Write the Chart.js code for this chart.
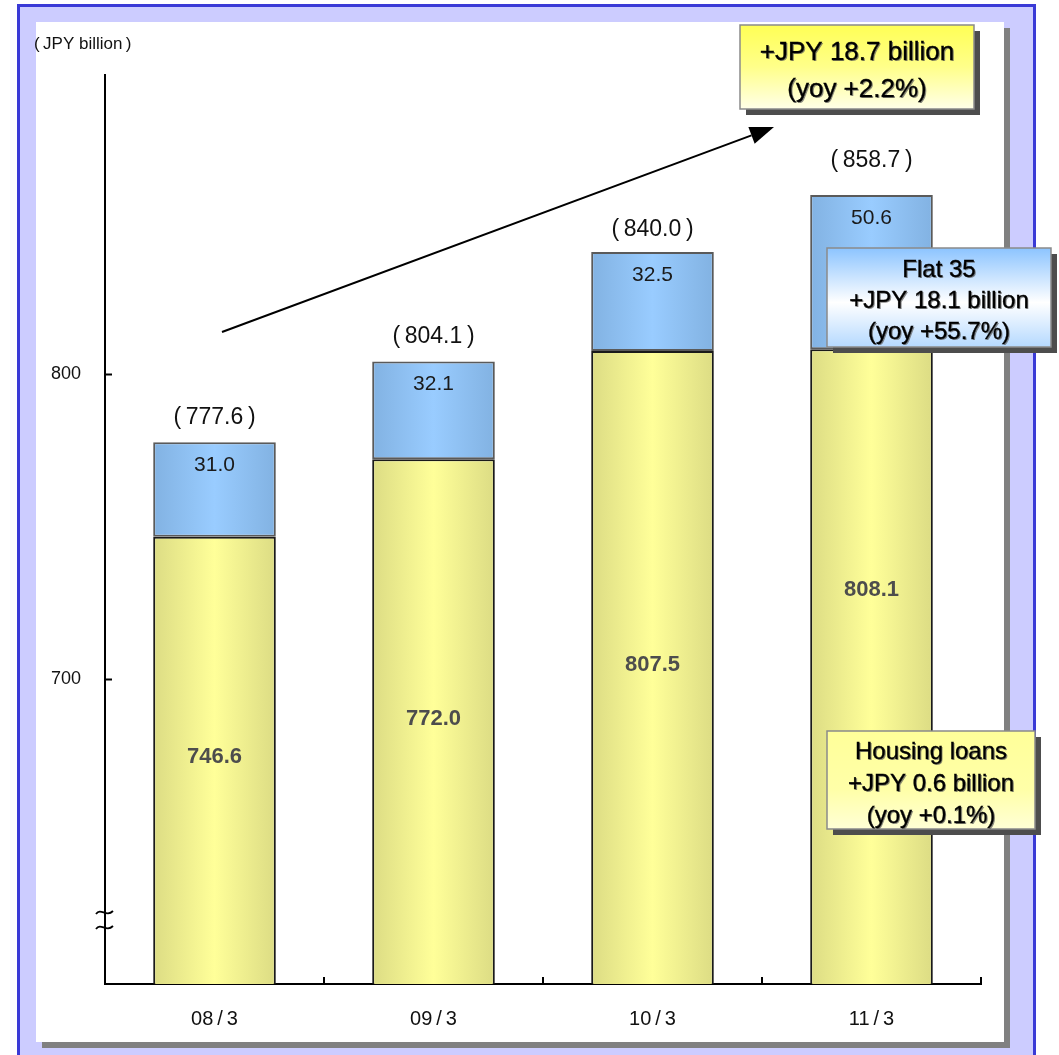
<!DOCTYPE html>
<html>
<head>
<meta charset="utf-8">
<script src="https://cdn.jsdelivr.net/npm/chart.js@4/dist/chart.umd.min.js"></script>
<style>
  html, body { margin: 0; padding: 0; background: #ffffff; }
  #wrap { width: 1059px; height: 1055px; }
</style>
</head>
<body>
<div id="wrap"><canvas id="c" width="1059" height="1055"></canvas></div>
<script>
// Fiscal year-ends and loan balances (JPY billion)
const categories   = ['08/3', '09/3', '10/3', '11/3'];
const housingLoans = [746.6, 772.0, 807.5, 808.1];
const flat35       = [31.0, 32.1, 32.5, 50.6];
const yTickValues  = [700, 800];
const unitLabel    = 'JPY billion';

const FONT = '"Liberation Sans", Arial, Helvetica, sans-serif';
const BAR_PCT = 0.56;
const THIN = '\u2009';

const last = categories.length - 1;
const totals = housingLoans.map((v, i) => v + flat35[i]);

function fmtChange(cur, prev) {
  const d = cur - prev;
  return {
    amount: (d >= 0 ? '+' : '-') + 'JPY ' + Math.abs(d).toFixed(1) + ' billion',
    pct: '(yoy ' + (d >= 0 ? '+' : '-') + Math.abs(d / prev * 100).toFixed(1) + '%)'
  };
}
const totalChange   = fmtChange(totals[last], totals[last - 1]);
const flatChange    = fmtChange(flat35[last], flat35[last - 1]);
const housingChange = fmtChange(housingLoans[last], housingLoans[last - 1]);

// horizontal "cylinder" shading across each bar
function barGradient(edge, mid) {
  return function (ctx) {
    const chart = ctx.chart;
    const xs = chart.scales && chart.scales.x;
    if (!chart.chartArea || !xs || ctx.dataIndex === undefined) return mid;
    const cx = xs.getPixelForValue(ctx.dataIndex);
    const half = (xs.width / categories.length) * BAR_PCT / 2;
    const g = chart.ctx.createLinearGradient(cx - half, 0, cx + half, 0);
    g.addColorStop(0, edge);
    g.addColorStop(0.5, mid);
    g.addColorStop(1, edge);
    return g;
  };
}

// page frame: lavender border panel, white sheet with a drop shadow
const framePlugin = {
  id: 'frame',
  beforeDraw(chart) {
    const c = chart.ctx;
    c.save();
    c.fillStyle = '#ffffff';
    c.fillRect(0, 0, chart.width, chart.height);
    c.fillStyle = '#ccccff';
    c.fillRect(17, 4, 1019, 1060);
    c.fillStyle = '#3a3ad6';
    c.fillRect(17, 4, 3, 1060);
    c.fillRect(17, 4, 1019, 3);
    c.fillRect(1033, 4, 3, 1060);
    c.fillStyle = '#808080';
    c.fillRect(42, 28, 968, 1020);
    c.fillStyle = '#ffffff';
    c.fillRect(36, 22, 968, 1020);
    c.restore();
  }
};

function shadowText(c, text, x, y) {
  c.fillStyle = 'rgba(90,90,90,0.7)';
  c.fillText(text, x + 1.2, y + 1.2);
  c.fillStyle = '#000000';
  c.fillText(text, x, y);
  c.lineWidth = 0.35;
  c.strokeStyle = '#000000';
  c.strokeText(text, x, y);
}

function calloutBox(c, box, stops, lines, fontSize, lineGap) {
  c.save();
  c.fillStyle = '#4d4d4d';
  c.fillRect(box.x + 6, box.y + 6, box.w, box.h);
  const g = c.createLinearGradient(0, box.y, 0, box.y + box.h);
  stops.forEach(s => g.addColorStop(s[0], s[1]));
  c.fillStyle = g;
  c.fillRect(box.x, box.y, box.w, box.h);
  c.strokeStyle = '#8a8a8a';
  c.lineWidth = 1.5;
  c.strokeRect(box.x, box.y, box.w, box.h);
  c.font = fontSize + 'px ' + FONT;
  c.textAlign = 'center';
  c.textBaseline = 'middle';
  const cx = box.x + box.w / 2;
  const y0 = box.y + box.h / 2 + 4 - (lines.length - 1) * lineGap / 2;
  lines.forEach((t, i) => shadowText(c, t, cx, y0 + i * lineGap));
  c.restore();
}

// axis ticks, value labels and callouts
const labelPlugin = {
  id: 'labels',
  afterDatasetsDraw(chart, args, opts) {
    const c = chart.ctx;
    const xs = chart.scales.x, ys = chart.scales.y;
    const area = chart.chartArea;
    const catW = xs.width / categories.length;
    c.save();

    // inward tick marks
    c.strokeStyle = '#000000';
    c.lineWidth = 2;
    yTickValues.forEach(v => {
      const y = Math.round(ys.getPixelForValue(v)) + 0.5;
      c.beginPath(); c.moveTo(area.left, y); c.lineTo(area.left + 7, y); c.stroke();
    });
    categories.forEach((_, i) => {
      const x = Math.round(xs.getPixelForValue(i) + catW / 2);
      c.beginPath(); c.moveTo(x, area.bottom); c.lineTo(x, area.bottom - 7); c.stroke();
    });

    // axis break mark
    c.lineWidth = 1.8;
    [912, 927].forEach(y => {
      c.beginPath();
      c.moveTo(area.left - 9, y + 2);
      c.bezierCurveTo(area.left - 4, y - 5, area.left + 1, y + 6, area.left + 8, y - 1);
      c.stroke();
    });

    c.textAlign = 'center';
    c.textBaseline = 'middle';
    categories.forEach((_, i) => {
      const x = xs.getPixelForValue(i);
      const yHousing = ys.getPixelForValue(housingLoans[i]);
      const yTotal = ys.getPixelForValue(totals[i]);

      c.font = '21px ' + FONT;
      c.fillStyle = '#1a1a1a';
      c.fillText(flat35[i].toFixed(1), x, yTotal + 23);

      c.font = 'bold 22px ' + FONT;
      c.fillStyle = '#4d4d4d';
      c.fillText(housingLoans[i].toFixed(1), x, (yHousing + area.bottom) / 2 + opts.housingShift[i]);

      c.font = '23px ' + FONT;
      c.fillStyle = '#111111';
      c.fillText('(' + THIN + totals[i].toFixed(1) + THIN + ')', x, yTotal - opts.totalLift[i]);
    });

    // unit label
    c.textAlign = 'left';
    c.font = '17px ' + FONT;
    c.fillStyle = '#111111';
    c.fillText('(' + THIN + unitLabel + THIN + ')', 34, 44);
    c.restore();
  },
  afterDraw(chart) {
    const c = chart.ctx;
    c.save();
    // growth arrow
    const sx = 222, sy = 332, tx = 774, ty = 127;
    const ang = Math.atan2(ty - sy, tx - sx);
    const hl = 24, hw = 9;
    const bx = tx - hl * Math.cos(ang), by = ty - hl * Math.sin(ang);
    c.strokeStyle = '#000000';
    c.lineWidth = 2;
    c.beginPath(); c.moveTo(sx, sy); c.lineTo(bx, by); c.stroke();
    c.fillStyle = '#000000';
    c.beginPath();
    c.moveTo(tx, ty);
    c.lineTo(bx + hw * Math.sin(ang), by - hw * Math.cos(ang));
    c.lineTo(bx - hw * Math.sin(ang), by + hw * Math.cos(ang));
    c.closePath(); c.fill();
    c.restore();

    calloutBox(c, { x: 740, y: 25, w: 234, h: 84 },
      [[0, '#ffff55'], [0.5, '#ffff8a'], [1, '#ffffe8']],
      [totalChange.amount, totalChange.pct], 26, 37);
    calloutBox(c, { x: 827, y: 248, w: 224, h: 99 },
      [[0, '#8cc4ff'], [0.55, '#ffffff'], [1, '#b5d9ff']],
      ['Flat 35', flatChange.amount, flatChange.pct], 24, 31);
    calloutBox(c, { x: 827, y: 731, w: 208, h: 98 },
      [[0, '#ffff99'], [0.6, '#ffffa8'], [1, '#ffffd6']],
      ['Housing loans', housingChange.amount, housingChange.pct], 24, 32);
  }
};

new Chart(document.getElementById('c'), {
  type: 'bar',
  data: {
    labels: categories,
    datasets: [
      {
        label: 'Housing loans',
        data: housingLoans,
        backgroundColor: barGradient('#dcdc84', '#ffff99'),
        borderColor: '#1a1a1a',
        borderWidth: 2,
        borderSkipped: false,
        barPercentage: BAR_PCT,
        categoryPercentage: 1
      },
      {
        label: 'Flat 35',
        data: flat35,
        backgroundColor: barGradient('#82b2e2', '#99ccff'),
        borderColor: '#5a5a5a',
        borderWidth: 2,
        borderSkipped: false,
        barPercentage: BAR_PCT,
        categoryPercentage: 1
      }
    ]
  },
  options: {
    responsive: false,
    devicePixelRatio: 1,
    animation: false,
    layout: { padding: { top: 75, right: 78, left: 0, bottom: 0 } },
    plugins: {
      legend: { display: false },
      title: { display: false },
      tooltip: { enabled: false },
      labels: { totalLift: [25, 25, 22, 34], housingShift: [-3, -3, -3, -77] }
    },
    scales: {
      x: {
        stacked: true,
        grid: { display: false, drawTicks: false },
        border: { display: true, color: '#000000', width: 2 },
        ticks: {
          padding: 23,
          color: '#111111',
          font: { family: FONT, size: 20 },
          callback: (v, i) => categories[i].replace('/', THIN + '/' + THIN)
        },
        afterFit: s => { s.height = 71; }
      },
      y: {
        stacked: true,
        min: 600,
        max: 898,
        grid: { display: false, drawTicks: false },
        border: { display: true, color: '#000000', width: 2 },
        afterBuildTicks: s => { s.ticks = yTickValues.map(v => ({ value: v })); },
        ticks: {
          padding: 24,
          color: '#111111',
          font: { family: FONT, size: 18 }
        },
        afterFit: s => { s.width = 105; }
      }
    }
  },
  plugins: [framePlugin, labelPlugin]
});
</script>
</body>
</html>
